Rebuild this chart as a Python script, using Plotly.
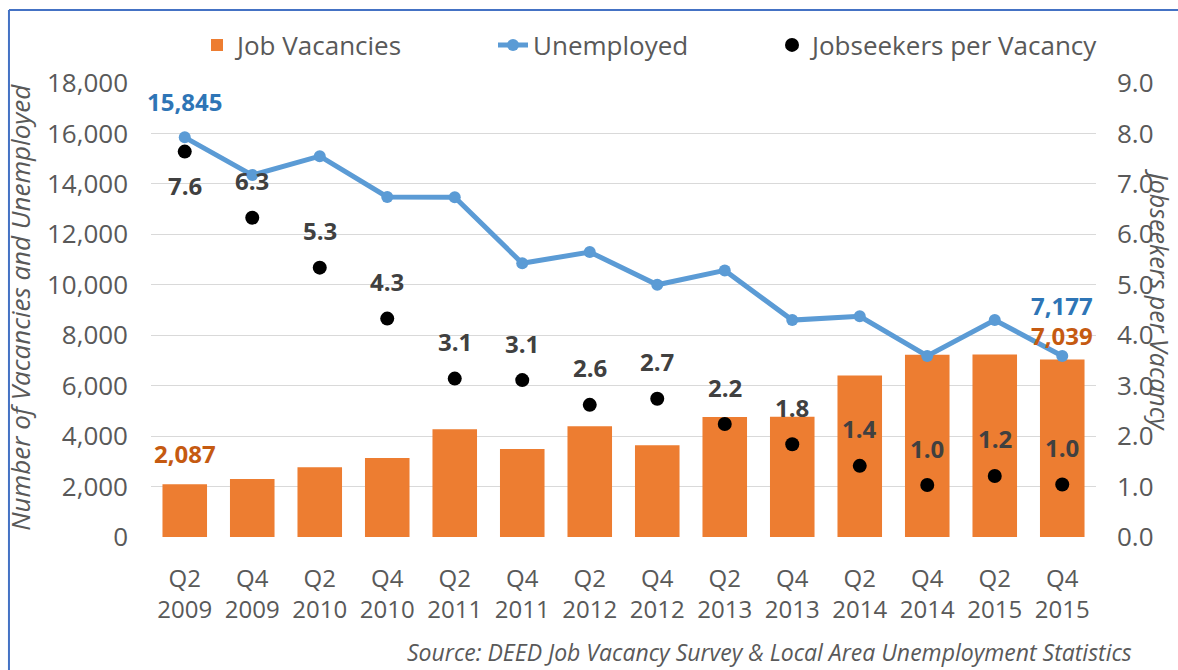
import plotly.graph_objects as go

quarters = ["Q2", "Q4", "Q2", "Q4", "Q2", "Q4", "Q2", "Q4", "Q2", "Q4", "Q2", "Q4", "Q2", "Q4"]
years = ["2009", "2009", "2010", "2010", "2011", "2011", "2012", "2012", "2013", "2013", "2014", "2014", "2015", "2015"]
vacancies = [2087, 2300, 2770, 3130, 4270, 3490, 4390, 3640, 4760, 4770, 6400, 7230, 7240, 7039]
unemployed = [15845, 14350, 15100, 13480, 13470, 10850, 11300, 10000, 10570, 8600, 8750, 7180, 8600, 7177]
ratio = [7.64, 6.33, 5.34, 4.33, 3.14, 3.11, 2.62, 2.74, 2.24, 1.84, 1.41, 1.03, 1.21, 1.04]
labeled_points = [0, 13]  # first and last values are labelled for bars and line
left_ticks = list(range(0, 18001, 2000))
right_ticks = [float(v) for v in range(0, 10)]

cats = [q + "<br>" + y for q, y in zip(quarters, years)]

FONT = "Open Sans"
GRAY = "#595959"
ORANGE = "#ed7d31"
BLUE = "#5b9bd5"

fig = go.Figure()
fig.add_trace(go.Bar(x=cats, y=vacancies, name="Job Vacancies", marker_color=ORANGE,
                     showlegend=True, legend="legend"))
fig.add_trace(go.Scatter(x=cats, y=unemployed, name="Unemployed", mode="lines+markers",
                         line=dict(color=BLUE, width=5), marker=dict(size=12, color=BLUE),
                         showlegend=True, legend="legend2"))
fig.add_trace(go.Scatter(x=cats, y=ratio, name="Jobseekers per Vacancy", mode="markers",
                         marker=dict(size=14, color="black"), yaxis="y2",
                         showlegend=True, legend="legend3"))

annotations = []
for i in labeled_points:
    annotations.append(dict(x=cats[i], y=unemployed[i], xref="x", yref="y",
                            xanchor="center", yanchor="middle",
                            text="<b>{:,}</b>".format(unemployed[i]), showarrow=False,
                            yshift=36 if i == 0 else 50,
                            font=dict(family=FONT, size=24, color="#2e75b6")))
    annotations.append(dict(x=cats[i], y=vacancies[i], xref="x", yref="y",
                            xanchor="center", yanchor="middle",
                            text="<b>{:,}</b>".format(vacancies[i]), showarrow=False,
                            yshift=31 if i == 0 else 24,
                            font=dict(family=FONT, size=24, color="#c55a11")))
for i, r in enumerate(ratio):
    annotations.append(dict(x=cats[i], y=r, xref="x", yref="y2",
                            xanchor="center", yanchor="middle",
                            text="<b>{:.1f}</b>".format(r), showarrow=False,
                            yshift=-34 if i == 0 else 37,
                            font=dict(family=FONT, size=24, color="#404040")))

annotations.append(dict(x=-0.1386, y=0.505, xref="paper", yref="paper", textangle=-90,
                        xanchor="center", yanchor="middle",
                        text="<i>Number of Vacancies and Unemployed</i>", showarrow=False,
                        font=dict(family=FONT, size=26, color=GRAY)))
annotations.append(dict(x=1.0677, y=0.522, xref="paper", yref="paper", textangle=90,
                        xanchor="center", yanchor="middle",
                        text="<i>Jobseekers per Vacancy</i>", showarrow=False,
                        font=dict(family=FONT, size=25, color=GRAY)))
annotations.append(dict(x=0.2688, y=-0.2533, xref="paper", yref="paper",
                        xanchor="left", yanchor="middle",
                        text="<i>Source: DEED Job Vacancy Survey & Local Area Unemployment Statistics</i>",
                        showarrow=False, font=dict(family=FONT, size=23, color=GRAY)))

legend_common = dict(orientation="h", xref="container", yref="container", xanchor="left",
                     yanchor="middle", y=1 - 45 / 670, bgcolor="rgba(0,0,0,0)",
                     font=dict(family=FONT, size=26, color=GRAY))

fig.update_layout(
    template="none",
    width=1178, height=670,
    margin=dict(l=151, r=82, t=83, b=133, autoexpand=False),
    paper_bgcolor="white", plot_bgcolor="white",
    bargap=0.34,
    font=dict(family=FONT, color=GRAY),
    annotations=annotations,
    showlegend=True,
    legend=dict(x=197 / 1178, **legend_common),
    legend2=dict(x=493 / 1178, **legend_common),
    legend3=dict(x=772 / 1178, **legend_common),
    xaxis=dict(range=[-0.5, 13.5], tickfont=dict(family=FONT, size=24, color=GRAY),
               showgrid=False, ticklabelstandoff=25, showline=False, zeroline=False,
               automargin=False, ticks=""),
    yaxis=dict(range=[0, 18000], tickvals=left_ticks, tickformat=",d",
               tickfont=dict(family=FONT, size=26, color=GRAY), gridcolor="#d9d9d9",
               gridwidth=1, zeroline=False, ticklabelstandoff=22, automargin=False,
               showline=False, ticks=""),
    yaxis2=dict(range=[0, 9], tickvals=right_ticks, tickformat=".1f", overlaying="y",
                side="right", showgrid=False, zeroline=False, automargin=False,
                tickfont=dict(family=FONT, size=26, color=GRAY), ticklabelstandoff=20,
                showline=False, ticks=""),
    shapes=[
        dict(type="line", xref="paper", yref="paper", x0=-0.1503, x1=-0.1503, y0=-0.35, y1=1.1608,
             line=dict(color="#4472c4", width=2)),
        dict(type="line", xref="paper", yref="paper", x0=-0.1503, x1=1.12, y0=1.1608, y1=1.1608,
             line=dict(color="#4472c4", width=2)),
    ],
)

fig.write_html("out.html", config={"displayModeBar": False},
               post_script="document.body.style.margin='0px';")
